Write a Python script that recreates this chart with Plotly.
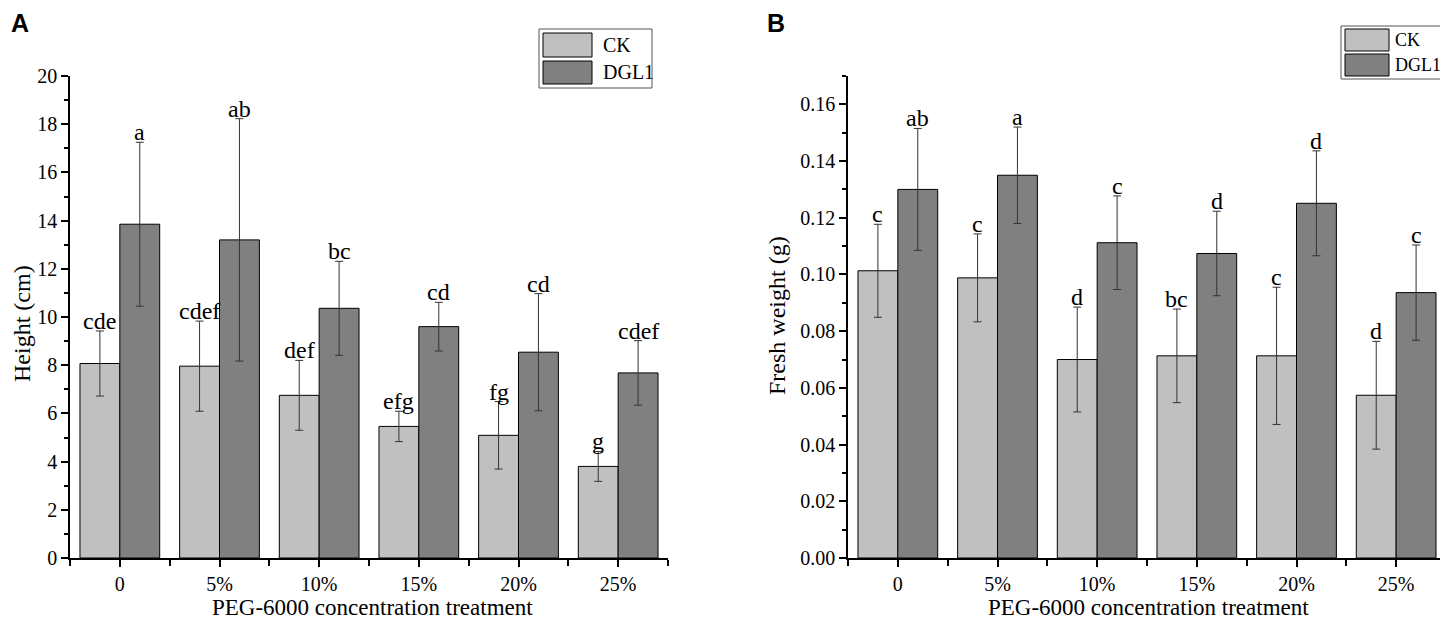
import plotly.graph_objects as go

categories = ['0', '5%', '10%', '15%', '20%', '25%']

height_ck = [8.07, 7.96, 6.75, 5.46, 5.09, 3.80]
height_ck_err = [1.35, 1.87, 1.45, 0.63, 1.40, 0.62]
height_dgl1 = [13.85, 13.20, 10.36, 9.60, 8.54, 7.68]
height_dgl1_err = [3.40, 5.03, 1.95, 1.01, 2.43, 1.34]
height_ck_letters = ['cde', 'cdef', 'def', 'efg', 'fg', 'g']
height_dgl1_letters = ['a', 'ab', 'bc', 'cd', 'cd', 'cdef']

weight_ck = [0.1013, 0.0988, 0.0700, 0.0713, 0.0713, 0.0574]
weight_ck_err = [0.0164, 0.0155, 0.0185, 0.0165, 0.0242, 0.0190]
weight_dgl1 = [0.1300, 0.1350, 0.1112, 0.1074, 0.1251, 0.0936]
weight_dgl1_err = [0.0215, 0.0170, 0.0165, 0.0149, 0.0185, 0.0168]
weight_ck_letters = ['c', 'c', 'd', 'bc', 'c', 'd']
weight_dgl1_letters = ['ab', 'a', 'c', 'd', 'd', 'c']

W, H = 1448, 623
PAGE_OFFSET = 8  # default body margin of the html page
CK_COLOR = '#c0c0c0'
DGL1_COLOR = '#808080'
SERIF = 'Liberation Serif'


# screen pixel -> paper fraction
def px(x):
    return (x - PAGE_OFFSET) / W


def py(y):
    return (H - (y - PAGE_OFFSET)) / H


pos = list(range(len(categories)))

fig = go.Figure()


def add_pair(ck, ck_err, dgl, dgl_err, xa, ya):
    for vals, errs, color, name in [(ck, ck_err, CK_COLOR, 'CK'), (dgl, dgl_err, DGL1_COLOR, 'DGL1')]:
        fig.add_trace(go.Bar(
            x=pos, y=vals, name=name, xaxis=xa, yaxis=ya, showlegend=False,
            marker=dict(color=color, line=dict(color='#000000', width=1)),
            error_y=dict(type='data', array=errs, visible=True, color='#333333', thickness=1, width=4),
        ))


add_pair(height_ck, height_ck_err, height_dgl1, height_dgl1_err, 'x', 'y')
add_pair(weight_ck, weight_ck_err, weight_dgl1, weight_dgl1_err, 'x2', 'y2')

annotations = []


def add_letters(vals, errs, letters, offset, xref, yref):
    for i, (v, e, t) in enumerate(zip(vals, errs, letters)):
        annotations.append(dict(
            x=i + offset, y=v + e, xref=xref, yref=yref, text=t, showarrow=False,
            yanchor='bottom', yshift=-5, font=dict(family=SERIF, size=24, color='#000000'),
        ))


add_letters(height_ck, height_ck_err, height_ck_letters, -0.2, 'x', 'y')
add_letters(height_dgl1, height_dgl1_err, height_dgl1_letters, 0.2, 'x', 'y')
add_letters(weight_ck, weight_ck_err, weight_ck_letters, -0.2, 'x2', 'y2')
add_letters(weight_dgl1, weight_dgl1_err, weight_dgl1_letters, 0.2, 'x2', 'y2')

# axis titles and panel letters
x_title_font = dict(family=SERIF, size=23, color='#000000')
y_title_font = dict(family=SERIF, size=24, color='#000000')
annotations += [
    dict(x=px(372), y=py(607), xref='paper', yref='paper', text='PEG-6000 concentration treatment',
         showarrow=False, xanchor='center', yanchor='middle', font=x_title_font),
    dict(x=px(1148), y=py(607), xref='paper', yref='paper', text='PEG-6000 concentration treatment',
         showarrow=False, xanchor='center', yanchor='middle', font=x_title_font),
    dict(x=px(22), y=py(324), xref='paper', yref='paper', text='Height (cm)', textangle=-90,
         showarrow=False, xanchor='center', yanchor='middle', font=y_title_font),
    dict(x=px(777), y=py(316), xref='paper', yref='paper', text='Fresh weight (g)', textangle=-90,
         showarrow=False, xanchor='center', yanchor='middle', font=y_title_font),
    dict(x=px(9), y=py(23), xref='paper', yref='paper', text='<b>A</b>', xanchor='left', yanchor='middle',
         showarrow=False, font=dict(family='Liberation Sans', size=25, color='#000000')),
    dict(x=px(765), y=py(23), xref='paper', yref='paper', text='<b>B</b>', xanchor='left', yanchor='middle',
         showarrow=False, font=dict(family='Liberation Sans', size=25, color='#000000')),
]

# legend boxes drawn as layout decoration
shapes = []


def add_legend(box, sw_x, rows, text_x, size):
    x0, y0, x1, y1 = box
    shapes.append(dict(type='rect', xref='paper', yref='paper', x0=px(x0), x1=px(x1), y0=py(y1), y1=py(y0),
                       line=dict(color='#555555', width=1), fillcolor='white', layer='below'))
    for (r0, r1), color, name in zip(rows, [CK_COLOR, DGL1_COLOR], ['CK', 'DGL1']):
        shapes.append(dict(type='rect', xref='paper', yref='paper', x0=px(sw_x[0]), x1=px(sw_x[1]),
                           y0=py(r1), y1=py(r0), fillcolor=color, line=dict(color='#000000', width=1)))
        annotations.append(dict(x=px(text_x), y=py((r0 + r1) / 2), xref='paper', yref='paper', text=name,
                                xanchor='left', yanchor='middle', showarrow=False,
                                font=dict(family=SERIF, size=size, color='#000000')))


add_legend((539, 29, 652, 88), (543, 592), [(33, 57), (61, 84)], 601, 20)
add_legend((1341, 26, 1446, 79), (1345, 1389), [(29, 51), (54, 76)], 1393, 18)

tick_font = dict(family=SERIF, size=20, color='#000000')
common_x = dict(
    tickmode='array', tickvals=pos, ticktext=categories, range=[-0.5, 5.5],
    showline=True, linecolor='#000000', linewidth=1.5, ticks='outside', ticklen=7, tickwidth=1.5,
    tickcolor='#000000', tickfont=tick_font, showgrid=False, zeroline=False, fixedrange=True,
    minor=dict(tickmode='array', tickvals=[p - 0.5 for p in pos] + [5.5], ticks='outside', ticklen=6,
               tickwidth=1.5, tickcolor='#000000'),
)
common_y = dict(
    showline=True, linecolor='#000000', linewidth=1.5, ticks='outside', ticklen=7, tickwidth=1.5,
    tickcolor='#000000', tickfont=tick_font, showgrid=False, zeroline=False,
)
y_dom = [py(558), py(76)]

fig.update_layout(
    width=W, height=H,
    margin=dict(l=0, r=0, t=0, b=0, autoexpand=False),
    paper_bgcolor='white', plot_bgcolor='white',
    barmode='group', bargap=0.2, bargroupgap=0,
    xaxis=dict(common_x, domain=[px(70), px(668)], anchor='y'),
    yaxis=dict(common_y, domain=y_dom, anchor='x', range=[0, 20], dtick=2,
               minor=dict(dtick=1, ticks='outside', ticklen=4, tickwidth=1.5, tickcolor='#000000')),
    xaxis2=dict(common_x, domain=[px(848), px(1446)], anchor='y2'),
    yaxis2=dict(common_y, domain=y_dom, anchor='x2', range=[0, 0.17], dtick=0.02, tickformat='.2f',
                minor=dict(dtick=0.01, ticks='outside', ticklen=4, tickwidth=1.5, tickcolor='#000000')),
    annotations=annotations,
    shapes=shapes,
)

fig.write_html("out.html")
